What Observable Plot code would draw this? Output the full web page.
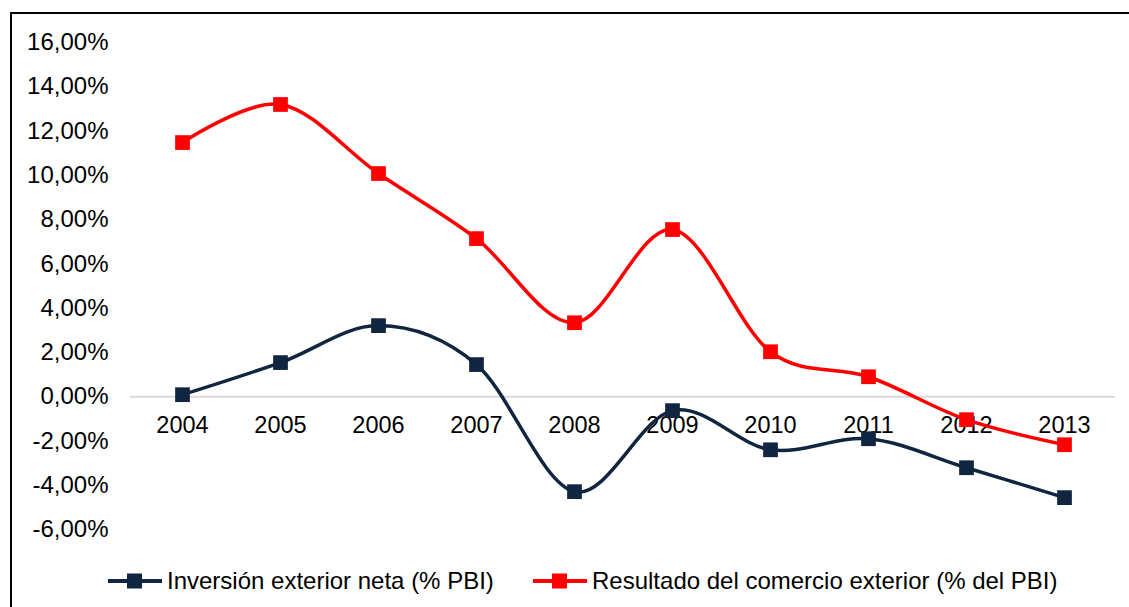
<!DOCTYPE html>
<html>
<head>
<meta charset="utf-8">
<script src="https://cdn.jsdelivr.net/npm/d3@7"></script>
<script src="https://cdn.jsdelivr.net/npm/@observablehq/plot@0.6"></script>
<style>
  html, body { margin: 0; padding: 0; background: #fff; }
  body { width: 1129px; height: 607px; position: relative; overflow: hidden; font-family: "Liberation Sans", Arial, sans-serif; }
  #frame { position: absolute; left: 10px; top: 12px; width: 1130px; height: 600px; border-left: 2px solid #000; border-top: 2px solid #000; }
  #chart { position: absolute; left: 0; top: 0; }
  #legend { position: absolute; left: 0; top: 566px; width: 1129px; height: 30px; font-size: 24px; color: #000; }
  .item { position: absolute; top: 0; display: flex; align-items: center; height: 30px; white-space: nowrap; }
  .item svg { margin-right: 5px; }
</style>
</head>
<body>
<div id="frame"></div>
<div id="chart"></div>
<div id="legend"></div>
<script>
const years = ["2004","2005","2006","2007","2008","2009","2010","2011","2012","2013"];
const inversion = [0.09, 1.54, 3.21, 1.45, -4.29, -0.63, -2.40, -1.90, -3.21, -4.56];
const comercio = [11.48, 13.20, 10.08, 7.14, 3.34, 7.55, 2.03, 0.90, -1.04, -2.17];
const yTicks = [-6, -4, -2, 0, 2, 4, 6, 8, 10, 12, 14, 16];
const seriesNames = ["Inversión exterior neta (% PBI)", "Resultado del comercio exterior (% del PBI)"];
const seriesColors = ["#10253F", "#FF0000"];

const fmt = v => v.toFixed(2).replace(".", ",") + "%";

const rows = [];
years.forEach((y, i) => {
  rows.push({year: y, value: inversion[i], series: seriesNames[0]});
  rows.push({year: y, value: comercio[i], series: seriesNames[1]});
});

const chart = Plot.plot({
  width: 1129,
  height: 560,
  marginLeft: 130,
  marginRight: 14,
  marginTop: 42,
  marginBottom: 31,
  style: {fontFamily: "'Liberation Sans', Arial, sans-serif", fontSize: "24px", background: "transparent", color: "#000"},
  x: {type: "point", domain: years, padding: 0.5, axis: null},
  y: {domain: [-6, 16], ticks: yTicks, tickFormat: fmt, tickSize: 0, tickPadding: 22, label: null},
  color: {domain: seriesNames, range: seriesColors},
  marks: [
    Plot.ruleY([0], {stroke: "#d9d9d9", strokeWidth: 2}),
    Plot.text(years, {x: d => d, y: () => 0, dy: 29, text: d => d, fontSize: 23.5, fill: "#000"}),
    Plot.line(rows, {x: "year", y: "value", z: "series", stroke: "series", strokeWidth: 3.5, curve: "cardinal", tension: 0}),
    Plot.dot(rows, {x: "year", y: "value", fill: "series", symbol: "square", r: 8.3, stroke: null})
  ]
});
document.getElementById("chart").appendChild(chart);

const legend = document.getElementById("legend");
const lefts = [108, 533];
seriesNames.forEach((name, i) => {
  const item = document.createElement("div");
  item.className = "item";
  item.style.left = lefts[i] + "px";
  item.innerHTML = `<svg width="54" height="20"><line x1="0" x2="54" y1="10" y2="10" stroke="${seriesColors[i]}" stroke-width="4"/><rect x="19" y="2.5" width="15" height="15" fill="${seriesColors[i]}"/></svg><span>${name}</span>`;
  legend.appendChild(item);
});
</script>
</body>
</html>
